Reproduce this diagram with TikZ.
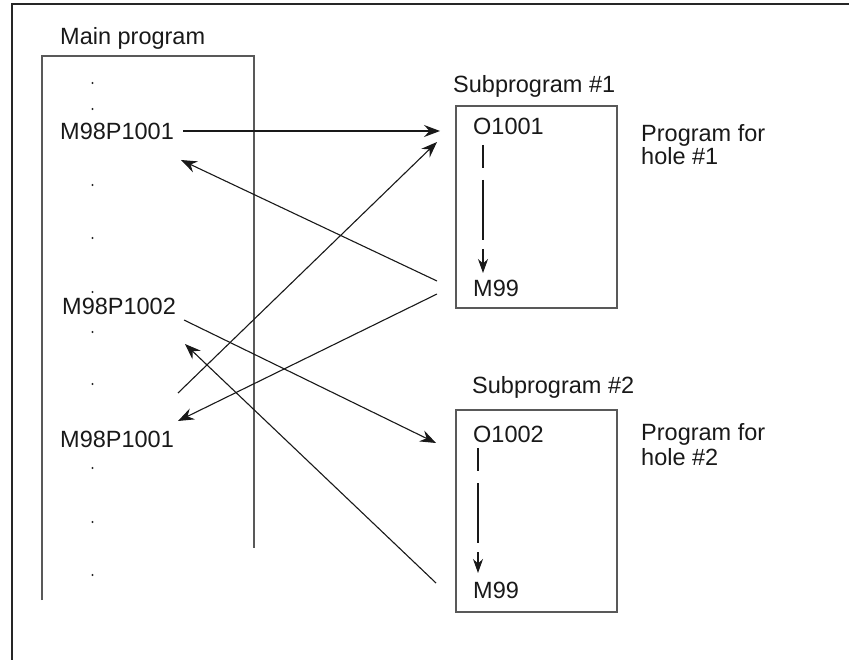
\documentclass[tikz,border=0pt]{standalone}
\usepackage{fontspec}
\setmainfont{Liberation Sans}
\usetikzlibrary{arrows.meta}
\begin{document}
\begin{tikzpicture}[x=1pt,y=-1pt,
  txt/.style={anchor=base west,inner sep=0pt,font=\fontsize{23.5}{23.5}\selectfont,text=black!90},
  frameline/.style={line width=2pt,draw=black!85},
  boxline/.style={line width=1.3pt,draw=black!65},
  callarrow/.style={line width=1.1pt,draw=black!90,-{Stealth[length=16pt,width=12pt,inset=5.5pt]}},
  flowarrow/.style={line width=1.1pt,draw=black!90,dash pattern=on 23pt off 12pt on 60pt off 9pt on 40pt,
    -{Stealth[length=14pt,width=10pt,inset=4.5pt]}},
  dotmark/.style={fill=black!85,draw=none}]
\useasboundingbox (0,0) rectangle (849,660);
\fill[white] (0,0) rectangle (849,660);

% outer frame (open to the right and bottom)
\draw[frameline] (849,4) -- (12,4) -- (12,660);

% main program column
\node[txt] (mainlbl) at (60,45) {Main program};
\draw[boxline] (42,600) -- (42,56) -- (254,56) -- (254,548);
\foreach \yy in {83,109,185,238,292,332,384,468,522,575}
  \fill[dotmark] (92.5,\yy) circle (1.2);
\node[txt] (call1) at (60,140) {M98P1001};
\node[txt] (call2) at (62,315) {M98P1002};
\node[txt] (call3) at (60,447) {M98P1001};

% subprogram #1
\node[txt] (sub1lbl) at (453,93) {Subprogram \#1};
\draw[boxline] (456,106) rectangle (617,308);
\node[txt] (o1001) at (473,135) {O1001};
\node[txt] (m99a) at (473,297) {M99};
\node[txt] (hole1a) at (641,142) {Program for};
\node[txt] (hole1b) at (641,165) {hole \#1};
\coordinate (f1s) at (483,145);
\coordinate (f1e) at (483,273);
\draw[flowarrow] (f1s) -- (f1e);

% subprogram #2
\node[txt] (sub2lbl) at (472,393) {Subprogram \#2};
\draw[boxline] (456,410) rectangle (617,612);
\node[txt] (o1002) at (473,442) {O1002};
\node[txt] (m99b) at (473,598) {M99};
\node[txt] (hole2a) at (641,440) {Program for};
\node[txt] (hole2b) at (641,465) {hole \#2};
\coordinate (f2s) at (478,448);
\coordinate (f2e) at (478,573);
\draw[flowarrow] (f2s) -- (f2e);

% call / return connectors
\coordinate (a1s) at (183,131);  \coordinate (a1e) at (440,131);
\coordinate (a2s) at (178,393);  \coordinate (a2e) at (437,142);
\coordinate (a3s) at (437,281);  \coordinate (a3e) at (181,160);
\coordinate (a4s) at (437,294);  \coordinate (a4e) at (178,421);
\coordinate (a5s) at (184,320);  \coordinate (a5e) at (436,443);
\coordinate (a6s) at (436,583);  \coordinate (a6e) at (185,344);
\draw[callarrow] (a1s) -- (a1e);
\draw[callarrow] (a2s) -- (a2e);
\draw[callarrow] (a3s) -- (a3e);
\draw[callarrow] (a4s) -- (a4e);
\draw[callarrow] (a5s) -- (a5e);
\draw[callarrow] (a6s) -- (a6e);
\end{tikzpicture}
\end{document}
